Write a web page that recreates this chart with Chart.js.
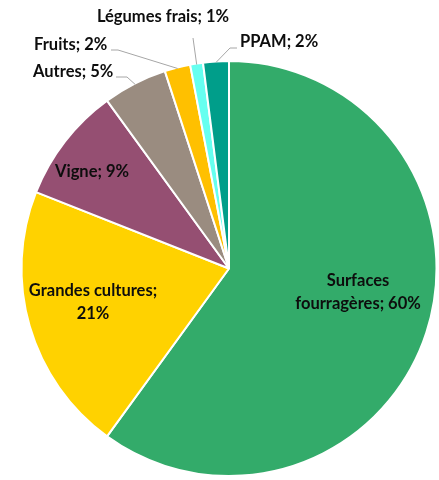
<!DOCTYPE html>
<html>
<head>
<meta charset="utf-8">
<script src="https://cdn.jsdelivr.net/npm/chart.js@4"></script>
<style>
  html, body { margin: 0; padding: 0; background: #fff; }
  #wrap { width: 439px; height: 480px; }
</style>
</head>
<body>
<div id="wrap"><canvas id="pie"></canvas></div>
<script>
const categories = ["Surfaces fourragères", "Grandes cultures", "Vigne", "Autres", "Fruits", "Légumes frais", "PPAM"];
const shares = [60, 21, 9, 5, 2, 1, 2];
const colours = ["#33ab6a", "#ffd200", "#954f72", "#9a8c80", "#ffc000", "#66fff0", "#009e8a"];

// label text lines + where they sit; inside labels have no leader
const labelLines = [
  ["Surfaces", "fourragères; 60%"],
  ["Grandes cultures;", "21%"],
  ["Vigne; 9%"],
  ["Autres; 5%"],
  ["Fruits; 2%"],
  ["Légumes frais; 1%"],
  ["PPAM; 2%"],
];
const labelPos = [
  { x: 358, y: 281, align: "center" },
  { x: 93, y: 291, align: "center" },
  { x: 92, y: 172, align: "center" },
  { x: 33, y: 72, align: "left", leader: [[127, 77], [116, 77]] },
  { x: 34, y: 45, align: "left", leader: [[118, 50], [111, 50]] },
  { x: 163, y: 17, align: "center", leader: [[193, 38]] },
  { x: 240, y: 42, align: "left", leader: [[230, 48], [237, 48]] },
];

const pieLabels = {
  id: "pieLabels",
  afterDatasetsDraw(chart) {
    const ctx = chart.ctx;
    const arcs = chart.getDatasetMeta(0).data;
    ctx.save();
    arcs.forEach((arc, i) => {
      const p = labelPos[i];
      if (p.leader) {
        const mid = (arc.startAngle + arc.endAngle) / 2;
        const r = arc.outerRadius - 1;
        ctx.strokeStyle = "#a6a6a6";
        ctx.lineWidth = 1;
        ctx.beginPath();
        ctx.moveTo(arc.x + Math.cos(mid) * r, arc.y + Math.sin(mid) * r);
        p.leader.forEach(pt => ctx.lineTo(pt[0], pt[1]));
        ctx.stroke();
      }
      ctx.fillStyle = "#0d0d0d";
      ctx.font = "bold 16.5px Lato";
      ctx.textAlign = p.align;
      ctx.textBaseline = "middle";
      labelLines[i].forEach((line, k) => ctx.fillText(line, p.x, p.y + k * 23));
    });
    ctx.restore();
  }
};

new Chart(document.getElementById("pie"), {
  type: "pie",
  data: {
    labels: categories,
    datasets: [{
      data: shares,
      backgroundColor: colours,
      borderColor: "#ffffff",
      borderWidth: 2,
    }],
  },
  options: {
    responsive: true,
    maintainAspectRatio: false,
    animation: false,
    layout: { padding: { left: 19, right: 0, top: 60, bottom: 3 } },
    plugins: {
      legend: { display: false },
      tooltip: { enabled: false },
    },
  },
  plugins: [pieLabels],
});
</script>
</body>
</html>
